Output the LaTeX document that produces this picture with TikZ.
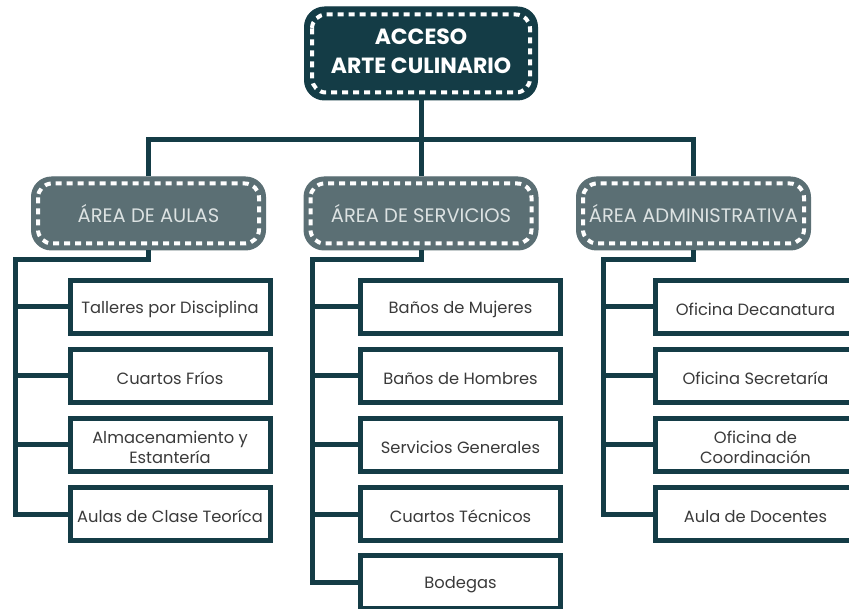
\documentclass[tikz,border=0pt]{standalone}
\usepackage{fontspec}
\setmainfont{Poppins}
\definecolor{dk}{HTML}{143C46}
\definecolor{mid}{HTML}{5B6F74}
\definecolor{ltxt}{HTML}{DCE2E2}
\definecolor{ctxt}{HTML}{3A3A3A}
\tikzset{
  conn/.style={draw=dk, line width=5pt},
  topbox/.style={draw=dk, fill=dk, line width=1pt, rounded corners=20pt, minimum width=233pt, minimum height=93pt},
  toplbl/.style={text=white, align=center, inner sep=0pt, yshift=2pt, font=\fontsize{22}{29}\selectfont\bfseries},
  areabox/.style={draw=mid, fill=mid, line width=1pt, rounded corners=20pt, minimum width=234pt, minimum height=73pt, align=center, text=ltxt, font=\fontsize{19.5}{23}\selectfont},
  childbox/.style={draw=dk, fill=white, line width=5pt, minimum width=200pt, minimum height=53pt, inner sep=1pt},
  lbl/.style={text=ctxt, align=center, inner sep=0pt, yshift=-2.5pt, font=\fontsize{16.3}{20}\selectfont},
  dash in/.style={draw=white, line width=4pt, dash pattern=on 6pt off 5pt, rounded corners=14pt}
}
\begin{document}
\begin{tikzpicture}[x=1pt,y=-1pt]
\useasboundingbox (0,0) rectangle (849,609);
\fill[white] (0,0) rectangle (849,609);
% top
\node[topbox, label={[toplbl]center:{ACCESO\\ARTE CULINARIO}}] (top) at (421,53.5) {};
\draw[dash in] ([shift={(8,8)}]top.north west) rectangle ([shift={(-8,-8)}]top.south east);
% areas
\node[areabox] (aulas) at (148.5,213.5) {ÁREA DE AULAS};
\node[areabox] (serv) at (421,213.5) {ÁREA DE SERVICIOS};
\node[areabox] (admin) at (693.5,213.5) {ÁREA ADMINISTRATIVA};
\foreach \n in {aulas,serv,admin}{
  \draw[dash in] ([shift={(7,7)}]\n.north west) rectangle ([shift={(-7,-7)}]\n.south east);
}
\coordinate (bar) at (0,140);
\draw[conn] (top.south) -- (serv.north);
\draw[conn] (aulas.north) -- (aulas.north |- bar) -- (admin.north |- bar) -- (admin.north);
% children left
\node[childbox, label={[lbl]center:{Talleres por Disciplina}}] (a1) at (170,307) {};
\node[childbox, label={[lbl]center:{Cuartos Fríos}}] (a2) at (170,376) {};
\node[childbox, label={[lbl]center:{Almacenamiento y\\Estantería}}] (a3) at (170,445) {};
\node[childbox, label={[lbl]center:{Aulas de Clase Teoríca}}] (a4) at (170,514) {};
% children middle
\node[childbox, label={[lbl]center:{Baños de Mujeres}}] (s1) at (460.5,307) {};
\node[childbox, label={[lbl]center:{Baños de Hombres}}] (s2) at (460.5,376) {};
\node[childbox, label={[lbl]center:{Servicios Generales}}] (s3) at (460.5,445) {};
\node[childbox, label={[lbl]center:{Cuartos Técnicos}}] (s4) at (460.5,514) {};
\node[childbox, label={[lbl]center:{Bodegas}}] (s5) at (460.5,582) {};
% children right
\node[childbox, label={[lbl]center:{Oficina Decanatura}}] (d1) at (755.5,307) {};
\node[childbox, label={[lbl]center:{Oficina Secretaría}}] (d2) at (755.5,376) {};
\node[childbox, label={[lbl]center:{Oficina de\\Coordinación}}] (d3) at (755.5,445) {};
\node[childbox, label={[lbl]center:{Aula de Docentes}}] (d4) at (755.5,514) {};
% spines
\coordinate (spA) at (15,260);
\coordinate (spS) at (312,260);
\coordinate (spD) at (603,260);
\draw[conn] (aulas.south) |- (spA) -- (spA |- a4.west) -- (a4.west);
\foreach \c in {a1,a2,a3} \draw[conn] (spA |- \c.west) -- (\c.west);
\draw[conn] (serv.south) |- (spS) -- (spS |- s5.west) -- (s5.west);
\foreach \c in {s1,s2,s3,s4} \draw[conn] (spS |- \c.west) -- (\c.west);
\draw[conn] (admin.south) |- (spD) -- (spD |- d4.west) -- (d4.west);
\foreach \c in {d1,d2,d3} \draw[conn] (spD |- \c.west) -- (\c.west);
\end{tikzpicture}
\end{document}
